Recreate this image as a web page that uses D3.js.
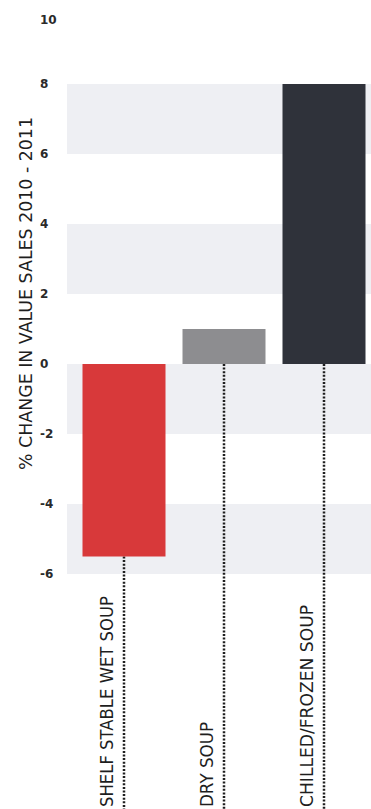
<!DOCTYPE html>
<html>
<head>
<meta charset="utf-8">
<script src="https://cdn.jsdelivr.net/npm/d3@7"></script>
<style>
  html, body { margin: 0; padding: 0; background: #fff; }
  svg { display: block; }
  .tick-label { font-family: "DejaVu Sans", sans-serif; font-size: 12px; font-weight: bold; fill: #2a2a2a; }
  .cat-label { font-family: "DejaVu Sans", sans-serif; font-size: 17.5px; fill: #1e1e1e; }
  .y-title { font-family: "DejaVu Sans", sans-serif; font-size: 17.5px; fill: #1e1e1e; }
</style>
</head>
<body>
<svg id="chart"></svg>
<script>
// data
var categories = ["SHELF STABLE WET SOUP", "DRY SOUP", "CHILLED/FROZEN SOUP"];
var values = [-5.5, 1, 8];
var barColors = ["#d8393a", "#8d8d90", "#2f323a"];
var yTicks = [10, 8, 6, 4, 2, 0, -2, -4, -6];
var stripeBands = [[8, 6], [4, 2], [0, -2], [-4, -6]];
var yTitle = "% CHANGE IN VALUE SALES 2010 - 2011";

var width = 371, height = 809;

var svg = d3.select("#chart")
    .attr("width", width)
    .attr("height", height);

var y = d3.scaleLinear()
    .domain([-6, 10])
    .range([574, 14]);

var x = d3.scaleBand()
    .domain(categories)
    .range([74, 374])
    .paddingInner(0.17)
    .paddingOuter(0.085);

// grey stripes behind the bars
svg.append("g").selectAll("rect")
    .data(stripeBands)
    .enter().append("rect")
    .attr("x", 67)
    .attr("width", width - 67)
    .attr("y", function (d) { return y(d[0]); })
    .attr("height", function (d) { return y(d[1]) - y(d[0]); })
    .attr("fill", "#eeeff3");

// tick labels
svg.append("g").selectAll("text")
    .data(yTicks)
    .enter().append("text")
    .attr("class", "tick-label")
    .attr("x", 40)
    .attr("y", function (d) { return y(d); })
    .attr("dy", function (d) { return d === 10 ? "0.8em" : "0.35em"; })
    .text(function (d) { return d; });

// axis title
svg.append("text")
    .attr("class", "y-title")
    .attr("transform", "translate(32," + 470 + ")rotate(-90)")
    .attr("textLength", 353)
    .attr("lengthAdjust", "spacingAndGlyphs")
    .text(yTitle);

var data = categories.map(function (c, i) {
    return {name: c, value: values[i], color: barColors[i]};
});

// dotted leader lines
svg.append("g").selectAll("line")
    .data(data)
    .enter().append("line")
    .attr("x1", function (d) { return x(d.name) + x.bandwidth() / 2; })
    .attr("x2", function (d) { return x(d.name) + x.bandwidth() / 2; })
    .attr("y1", function (d) { return Math.max(y(0), y(d.value)); })
    .attr("y2", height)
    .attr("stroke", "#1e1e1e")
    .attr("stroke-width", 2.5)
    .attr("stroke-dasharray", "2,1.6");

// bars
svg.append("g").selectAll("rect")
    .data(data)
    .enter().append("rect")
    .attr("x", function (d) { return x(d.name); })
    .attr("width", x.bandwidth())
    .attr("y", function (d) { return y(Math.max(0, d.value)); })
    .attr("height", function (d) { return Math.abs(y(d.value) - y(0)); })
    .attr("fill", function (d) { return d.color; });

// category labels, rotated, sitting left of the leader line
var labelLen = {"SHELF STABLE WET SOUP": 211, "DRY SOUP": 85, "CHILLED/FROZEN SOUP": 202};
svg.append("g").selectAll("text")
    .data(data)
    .enter().append("text")
    .attr("class", "cat-label")
    .attr("transform", function (d) {
        return "translate(" + (x(d.name) + x.bandwidth() / 2 - 11) + ",807)rotate(-90)";
    })
    .attr("textLength", function (d) { return labelLen[d.name]; })
    .attr("lengthAdjust", "spacingAndGlyphs")
    .text(function (d) { return d.name; });
</script>
</body>
</html>
